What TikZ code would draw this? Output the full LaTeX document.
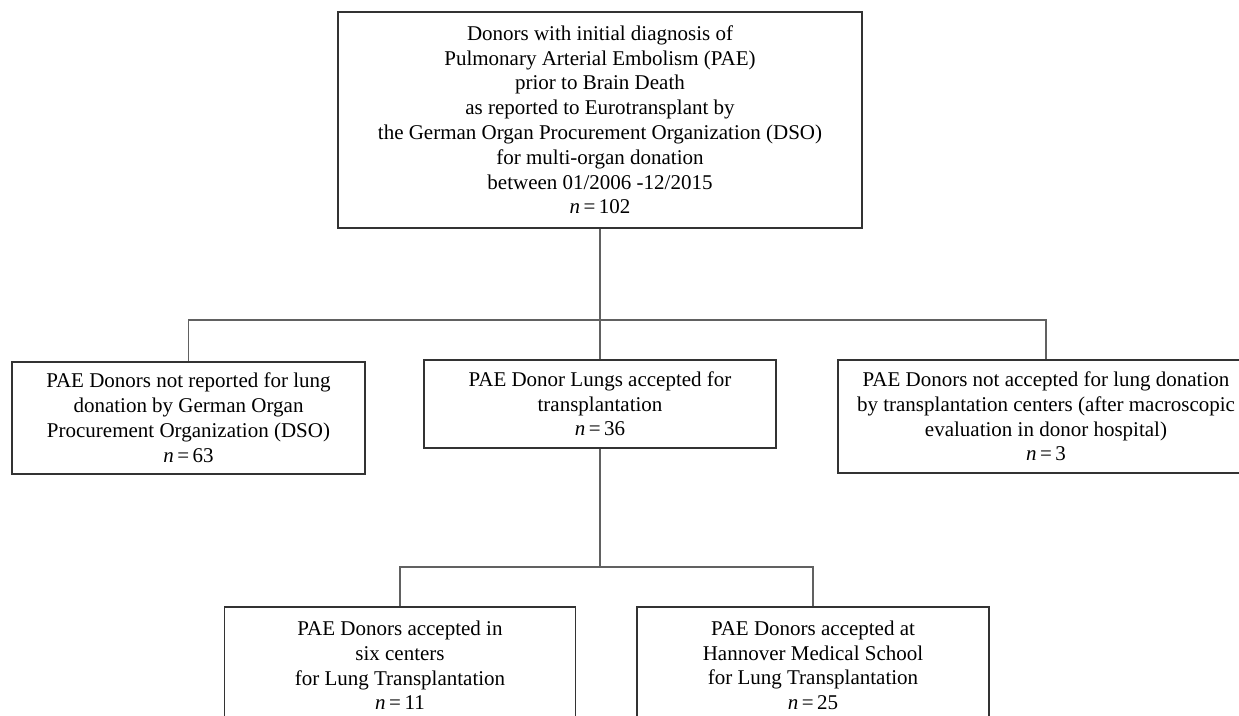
\documentclass[tikz,border=0pt]{standalone}
\usepackage{fontspec}
\setmainfont{Liberation Serif}
\begin{document}
\begin{tikzpicture}[x=1pt,y=-1pt,
  box/.style={draw=black!80, line width=1.8pt, fill=white, align=center, inner sep=0pt,
    anchor=north, font=\fontsize{21}{24.8}\selectfont},
  link/.style={draw=black!62, line width=1.4pt}]
\useasboundingbox[fill=white] (0,0) rectangle (1239,715);
\node[box, minimum width=524pt, minimum height=216pt] (top) at (600,11)
  {Donors with initial diagnosis of\\Pulmonary Arterial Embolism (PAE)\\prior to Brain Death\\as reported to Eurotransplant by\\the German Organ Procurement Organization (DSO)\\for multi-organ donation\\between 01/2006 -12/2015\\\textit{n}\,=\,102};
\node[box, minimum width=353pt, minimum height=112pt] (left) at (188.5,361)
  {PAE Donors not reported for lung\\donation by German Organ\\Procurement Organization (DSO)\\\textit{n}\,=\,63};
\node[box, minimum width=352pt, minimum height=88pt] (mid) at (600,359)
  {PAE Donor Lungs accepted for\\transplantation\\\textit{n}\,=\,36};
\node[box, minimum width=416pt, minimum height=113pt] (right) at (1046,359)
  {PAE Donors not accepted for lung donation\\by transplantation centers (after macroscopic\\evaluation in donor hospital)\\\textit{n}\,=\,3};
\node[box, minimum width=351pt, minimum height=117pt] (bl) at (400,606)
  {PAE Donors accepted in\\six centers\\for Lung Transplantation\\\textit{n}\,=\,11};
\node[box, minimum width=352pt, minimum height=117pt] (br) at (813,606)
  {PAE Donors accepted at\\Hannover Medical School\\for Lung Transplantation\\\textit{n}\,=\,25};
\coordinate (j1) at (600,320);
\coordinate (j2) at (600,567);
\draw[link] (top.south) -- (mid.north);
\draw[link] (left.north) |- (j1) -| (right.north);
\draw[link] (mid.south) -- (j2);
\draw[link] (bl.north) |- (j2) -| (br.north);
\end{tikzpicture}
\end{document}
